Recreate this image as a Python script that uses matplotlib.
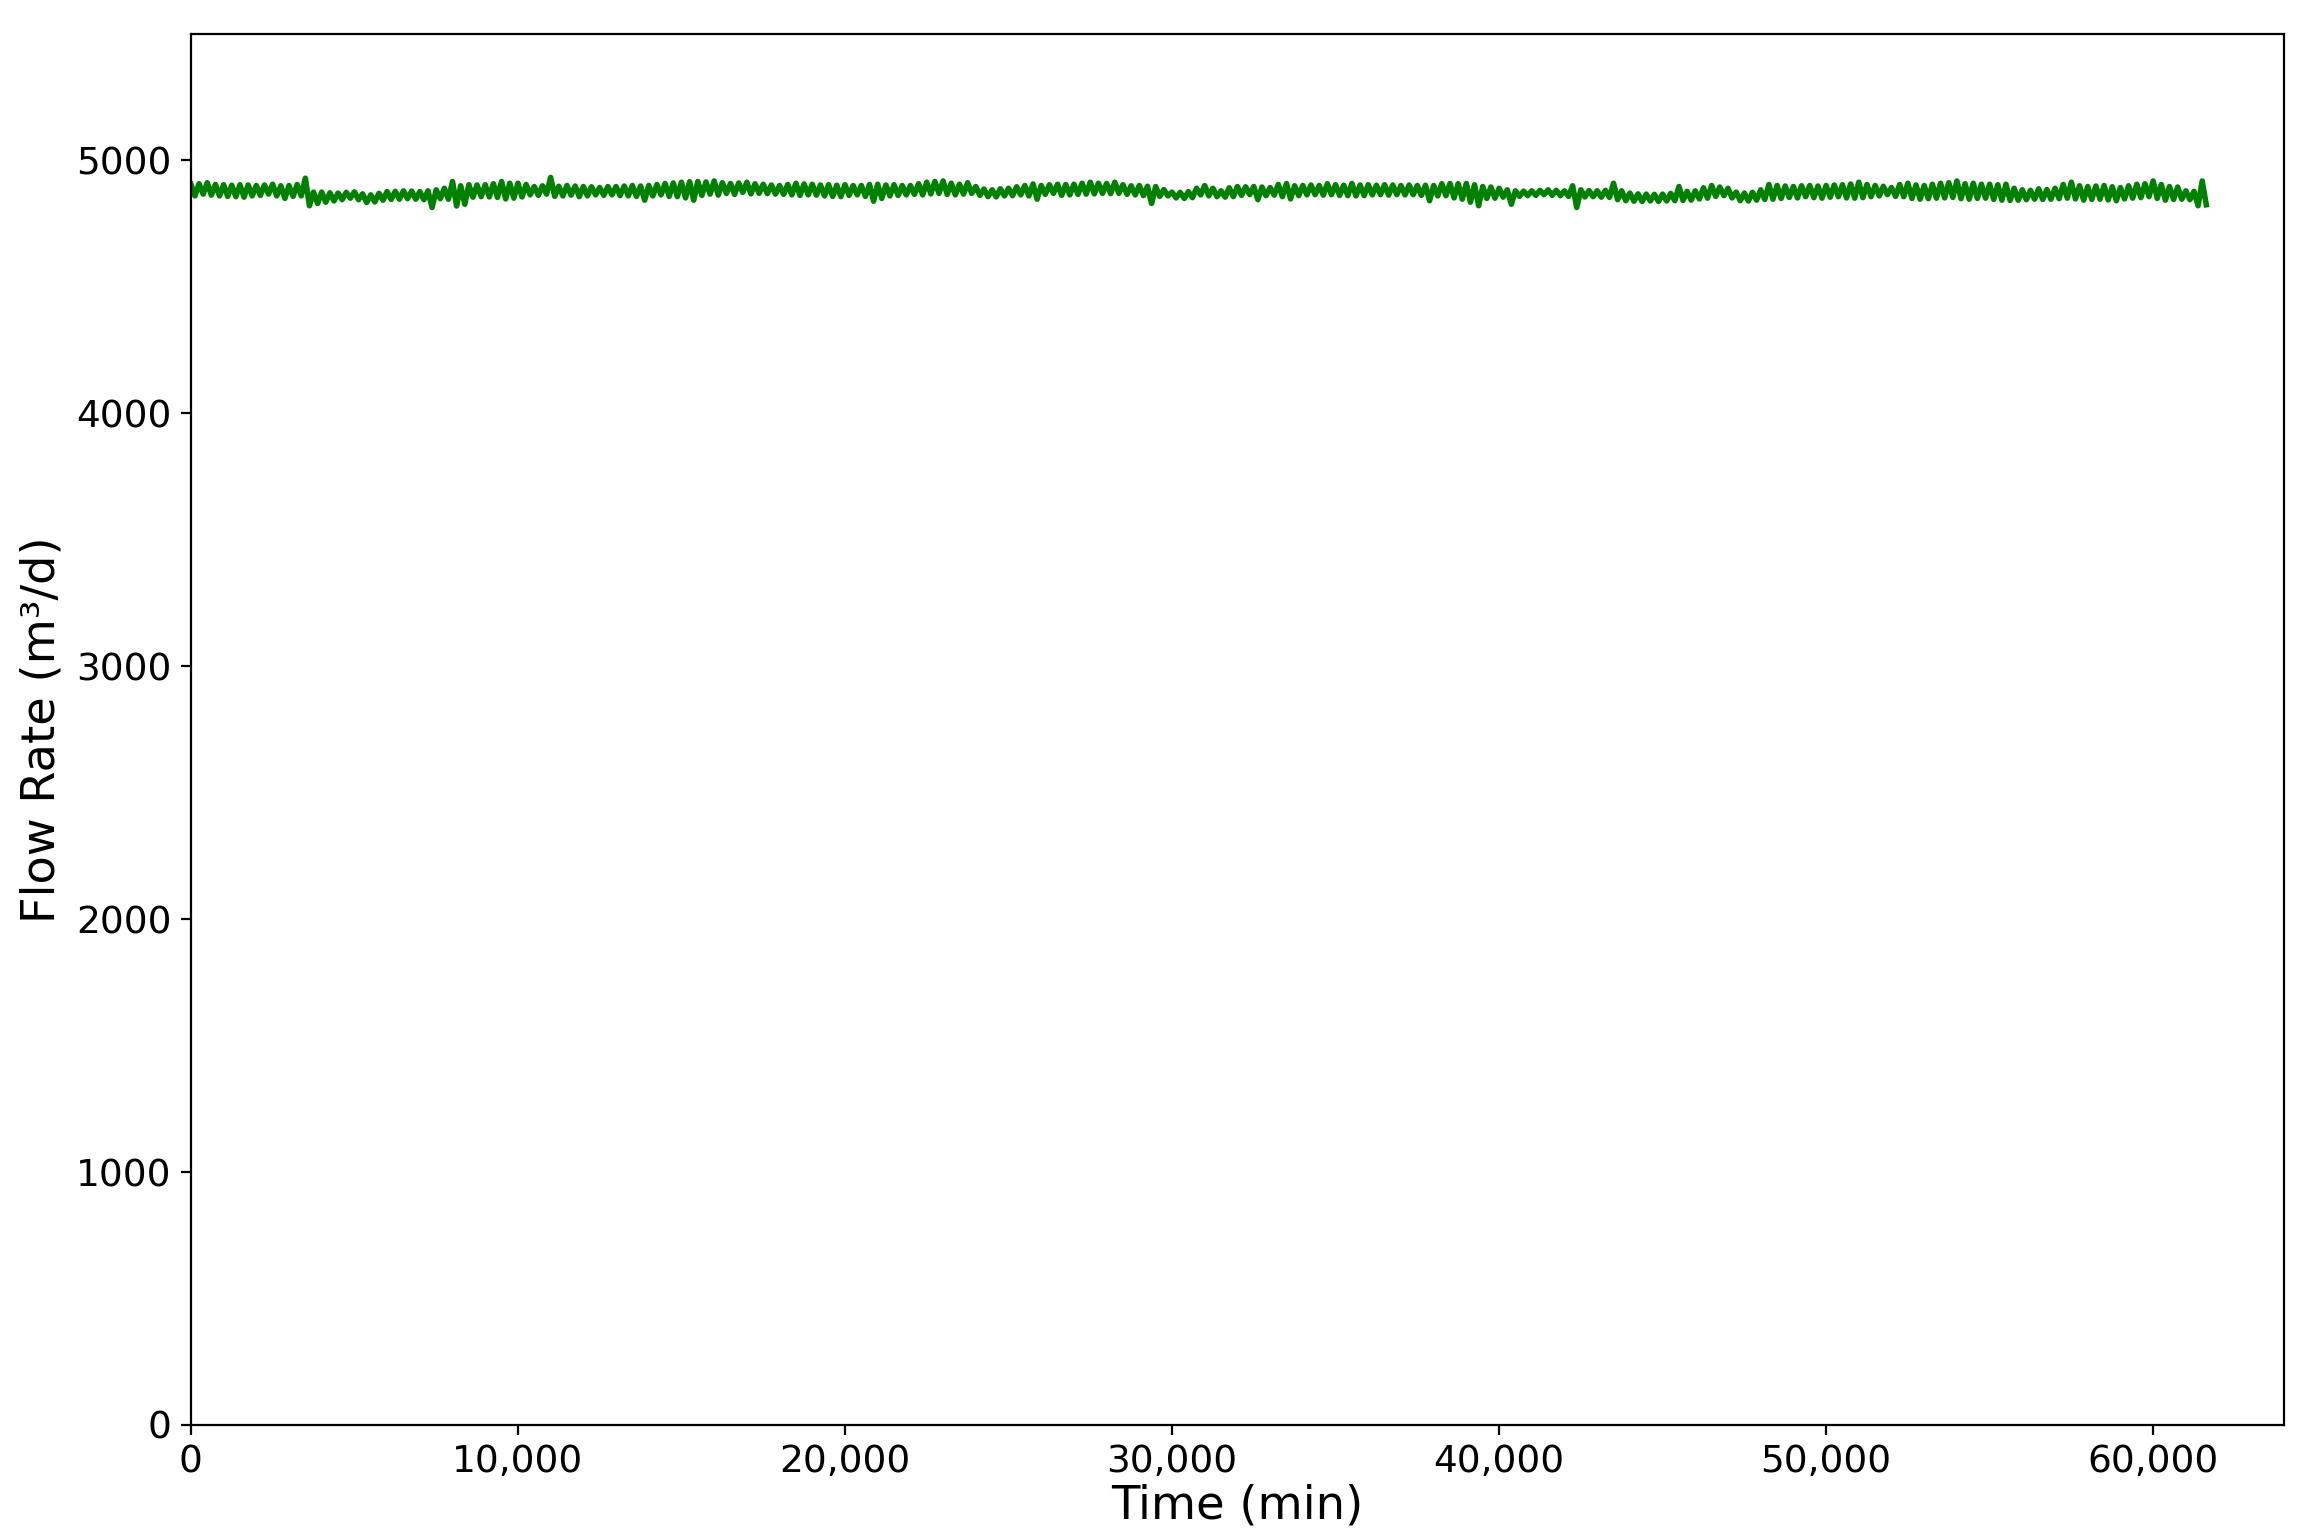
#!/usr/bin/env python3
"""Plot flow rate over time for the well test record"""

import numpy as np
import matplotlib
matplotlib.use('Agg')
import matplotlib.pyplot as plt
from matplotlib.ticker import StrMethodFormatter

# sample spacing of the read-off record (min)
TIME_STEP = 250
TIME_END = 61500

# upper edge of the flow rate trace (m3/d), one reading every 250 min
flow_upper = [
    4906, 4908, 4912, 4905, 4904, 4902, 4904, 4903, 4901, 4903, 4906, 4900,
    4901, 4905, 4930, 4875, 4875, 4872, 4871, 4874, 4876, 4868, 4864, 4870,
    4877, 4878, 4880, 4879, 4877, 4880, 4884, 4890, 4917, 4900, 4904, 4903,
    4904, 4908, 4917, 4910, 4910, 4905, 4897, 4900, 4933, 4898, 4901, 4899,
    4897, 4896, 4893, 4897, 4897, 4899, 4901, 4899, 4901, 4905, 4909, 4911,
    4914, 4916, 4917, 4915, 4919, 4912, 4909, 4911, 4914, 4908, 4906, 4903,
    4901, 4905, 4910, 4907, 4906, 4903, 4904, 4902, 4904, 4901, 4901, 4905,
    4906, 4903, 4904, 4901, 4901, 4908, 4914, 4917, 4919, 4910, 4906, 4912,
    4897, 4887, 4884, 4888, 4890, 4896, 4901, 4907, 4901, 4904, 4906, 4905,
    4906, 4910, 4914, 4910, 4909, 4914, 4904, 4900, 4901, 4898, 4897, 4885,
    4875, 4874, 4877, 4890, 4901, 4890, 4880, 4892, 4897, 4896, 4897, 4895,
    4893, 4905, 4909, 4900, 4901, 4903, 4901, 4908, 4904, 4902, 4909, 4903,
    4904, 4902, 4904, 4903, 4901, 4903, 4901, 4902, 4901, 4908, 4909, 4908,
    4909, 4904, 4897, 4895, 4890, 4884, 4880, 4879, 4880, 4882, 4884, 4882,
    4880, 4900, 4884, 4881, 4880, 4882, 4910, 4880, 4871, 4868, 4867, 4866,
    4867, 4870, 4897, 4878, 4880, 4892, 4901, 4895, 4890, 4875, 4871, 4874,
    4884, 4905, 4901, 4899, 4897, 4900, 4901, 4899, 4901, 4903, 4904, 4907,
    4914, 4905, 4901, 4898, 4893, 4905, 4910, 4903, 4901, 4906, 4910, 4912,
    4919, 4908, 4910, 4906, 4906, 4904, 4906, 4890, 4884, 4882, 4888, 4885,
    4890, 4905, 4914, 4900, 4897, 4899, 4901, 4896, 4893, 4900, 4906, 4908,
    4919, 4905, 4897, 4895, 4880, 4878, 4919,
]

# lower edge of the flow rate trace (m3/d), read 125 min after each upper reading
flow_lower = [
    4860, 4867, 4863, 4860, 4858, 4857, 4855, 4860, 4862, 4867, 4860, 4850,
    4858, 4860, 4821, 4830, 4835, 4840, 4845, 4851, 4845, 4834, 4836, 4843,
    4846, 4847, 4849, 4847, 4845, 4814, 4849, 4847, 4820, 4827, 4855, 4857,
    4856, 4854, 4848, 4851, 4856, 4864, 4862, 4867, 4858, 4860, 4863, 4857,
    4860, 4864, 4862, 4864, 4861, 4860, 4858, 4843, 4860, 4864, 4858, 4857,
    4852, 4843, 4862, 4867, 4863, 4870, 4866, 4874, 4868, 4870, 4869, 4867,
    4866, 4864, 4862, 4864, 4863, 4860, 4858, 4857, 4862, 4864, 4858, 4839,
    4850, 4860, 4862, 4864, 4866, 4864, 4868, 4870, 4866, 4864, 4867, 4870,
    4862, 4857, 4856, 4860, 4861, 4864, 4860, 4847, 4866, 4870, 4862, 4864,
    4866, 4867, 4868, 4870, 4869, 4870, 4866, 4864, 4861, 4830, 4858, 4860,
    4852, 4850, 4853, 4864, 4860, 4857, 4855, 4857, 4862, 4865, 4845, 4861,
    4863, 4857, 4848, 4861, 4864, 4865, 4863, 4865, 4862, 4861, 4860, 4861,
    4864, 4865, 4863, 4865, 4864, 4865, 4862, 4841, 4860, 4861, 4852, 4847,
    4835, 4821, 4850, 4851, 4855, 4827, 4858, 4861, 4862, 4865, 4862, 4861,
    4858, 4814, 4856, 4857, 4855, 4854, 4845, 4841, 4839, 4838, 4840, 4838,
    4840, 4841, 4842, 4843, 4848, 4851, 4858, 4861, 4852, 4841, 4840, 4843,
    4846, 4847, 4850, 4854, 4852, 4857, 4853, 4851, 4855, 4857, 4852, 4851,
    4853, 4857, 4860, 4865, 4858, 4857, 4850, 4847, 4849, 4851, 4852, 4854,
    4849, 4847, 4850, 4851, 4846, 4843, 4842, 4843, 4845, 4847, 4846, 4847,
    4849, 4851, 4848, 4843, 4846, 4847, 4844, 4841, 4848, 4851, 4853, 4857,
    4850, 4843, 4846, 4847, 4845, 4821, 4825,
]

x_ticks = [0, 10000, 20000, 30000, 40000, 50000, 60000]
y_ticks = [0, 1000, 2000, 3000, 4000, 5000]


def flow_plot():
    """Draw the flow rate trace and save it"""
    time_upper = np.arange(0, TIME_END + 1, TIME_STEP)
    time_lower = time_upper + TIME_STEP / 2
    # the trace swings between its upper and lower edge
    time_min = np.column_stack([time_upper, time_lower]).ravel()
    flow = np.column_stack([flow_upper, flow_lower]).ravel()

    fig = plt.figure(figsize=(11.555, 7.7), dpi=200)
    ax = fig.add_axes([0.0826, 0.0747, 0.9057, 0.9032])

    ax.plot(time_min, flow, color='green', linewidth=2.0)

    ax.set_xlim(0, 64000)
    ax.set_ylim(0, 5500)
    ax.set_xticks(x_ticks)
    ax.set_yticks(y_ticks)
    ax.xaxis.set_major_formatter(StrMethodFormatter('{x:,.0f}'))
    ax.tick_params(labelsize=13.5)

    ax.set_xlabel('Time (min)', fontsize=16.7, labelpad=1)
    ax.set_ylabel('Flow Rate (m³/d)', fontsize=16.7)

    fig.savefig('out.png', dpi=200)
    plt.close(fig)


def main():
    """ Calling function to create graph """
    flow_plot()


if __name__ == "__main__":
    main()
